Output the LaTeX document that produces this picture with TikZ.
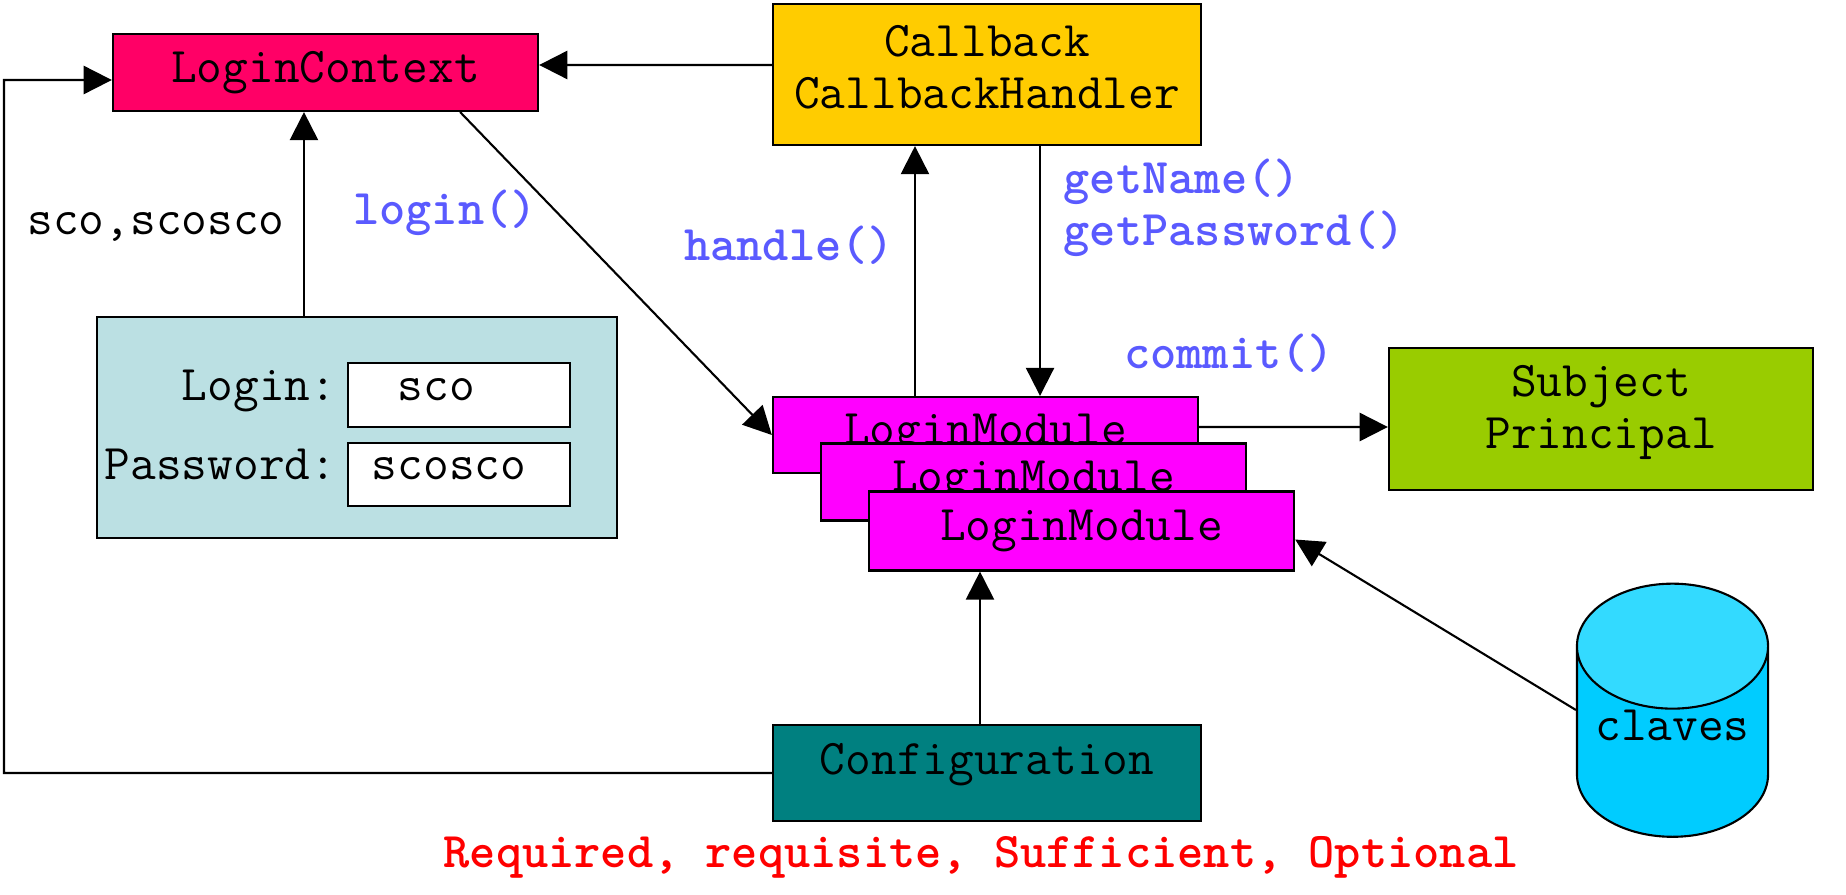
\documentclass[tikz,border=0pt]{standalone}
\usetikzlibrary{arrows.meta,positioning,shapes.geometric}

\definecolor{ctxred}{HTML}{FF0066}
\definecolor{cbyellow}{HTML}{FFCC00}
\definecolor{formblue}{HTML}{BBE0E3}
\definecolor{lmmag}{HTML}{FF00FF}
\definecolor{subjgreen}{HTML}{99CC00}
\definecolor{cfgteal}{HTML}{008080}
\definecolor{clavesbody}{HTML}{00CCFF}
\definecolor{clavestop}{HTML}{33DAFF}
\definecolor{callblue}{HTML}{5A5AFF}

\newcommand{\txtsize}{\fontsize{14.2}{14.8}\selectfont}

\tikzset{
  box/.style={draw, line width=0.6pt, inner sep=0pt, align=center, minimum width=4.25cm},
  field/.style={draw, fill=white, line width=0.6pt, inner xsep=0.24cm, inner ysep=0pt,
    text width=1.74cm, align=left, minimum height=0.64cm, text height=0.2cm, text depth=0.1cm},
  arr/.style={-{Triangle[length=8pt,width=8pt]}, line width=0.6pt},
  call/.style={text=callblue, font=\ttfamily\bfseries\txtsize},
}

\begin{document}
\begin{tikzpicture}[x=0.01cm, y=-0.01cm, font=\ttfamily\txtsize]
\useasboundingbox (0,0) rectangle (1846,894);

\node[box, fill=ctxred, minimum height=0.77cm] (ctx) at (325.5,72.5) {LoginContext};
\node[box, fill=cbyellow, minimum width=4.28cm, minimum height=1.41cm, text depth=0.16cm] (cbh) at (987,74.5) {Callback\\CallbackHandler};

% login form
\node[box, fill=formblue, minimum width=5.2cm, minimum height=2.21cm] (form) at (357,427.5) {};
\node[field] (loginf) at (459,395) {\hphantom{s}sco};
\node[field, minimum height=0.63cm] (pwf) at (459,474.5) {scosco};
\node[anchor=base east, inner sep=0pt] (loginlbl) at ([xshift=-0.1cm]loginf.base west) {Login:};
\node[anchor=base east, inner sep=0pt] (pwlbl) at ([xshift=-0.1cm]pwf.base west) {Password:};

% modules
\node[box, fill=lmmag, minimum height=0.76cm] (lm1) at (985.5,435) {LoginModule};
\node[box, fill=lmmag, minimum height=0.77cm] (lm2) at ([shift={(48,47)}]lm1.center) {LoginModule};
\node[box, fill=lmmag, minimum height=0.79cm] (lm3) at ([shift={(48,49)}]lm2.center) {LoginModule};

\node[box, fill=subjgreen, minimum width=4.24cm, minimum height=1.42cm, text depth=0.24cm] (subj) at (1601,419) {Subject\\Principal};
\node[box, fill=cfgteal, minimum width=4.28cm, minimum height=0.96cm, text depth=0.29cm] (cfg) at (987,773) {Configuration};
\node[cylinder, shape border rotate=90, draw, line width=0.6pt, aspect=0.81,
  minimum width=1.91cm, minimum height=2.53cm, inner sep=0pt, text depth=0.34cm,
  cylinder uses custom fill, cylinder body fill=clavesbody, cylinder end fill=clavestop] (claves) at (1672.5,742) {claves};

% labels
\node (creds) at (156,227) {sco,scosco};
\node[call] (loginmsg) at (445,213) {login()};
\node[call] (handlemsg) at (789,245) {handle()};
\node[call, align=left, anchor=west, inner sep=0pt] (getmsg) at (1063,207.5) {getName()\\getPassword()};
\node[call] (commitmsg) at (1229,353) {commit()};
\node[text=red, font=\ttfamily\bfseries\txtsize] (flags) at (981,857) {Required, requisite, Sufficient, Optional};

% connectors
\coordinate (corner) at (4,80);
\draw[arr] (cfg.west) -| (corner) -- ([yshift=-0.075cm]ctx.west);
\draw[arr] ([yshift=0.095cm]cbh.west) -- ([yshift=0.075cm]ctx.east);

\coordinate (formtop) at ([xshift=-0.53cm]form.north);
\draw[arr] (formtop) -- (formtop |- ctx.south);
\draw[arr] ([xshift=-0.79cm]ctx.south east) -- (lm1.west);

\coordinate (lmup) at ([xshift=-0.705cm]lm1.north);
\draw[arr] (lmup) -- (lmup |- cbh.south);
\coordinate (cbdown) at ([xshift=0.53cm]cbh.south);
\draw[arr] (cbdown) -- (cbdown |- lm1.north);

\draw[arr] ([yshift=0.08cm]lm1.east) -- ([yshift=-0.08cm]subj.west);

\coordinate (cfgtop) at ([xshift=-0.07cm]cfg.north);
\draw[arr] (cfgtop) -- (cfgtop |- lm3.south);
\draw[arr] ([yshift=0.32cm]claves.west) -- ([yshift=-0.085cm]lm3.east);
\end{tikzpicture}
\end{document}
